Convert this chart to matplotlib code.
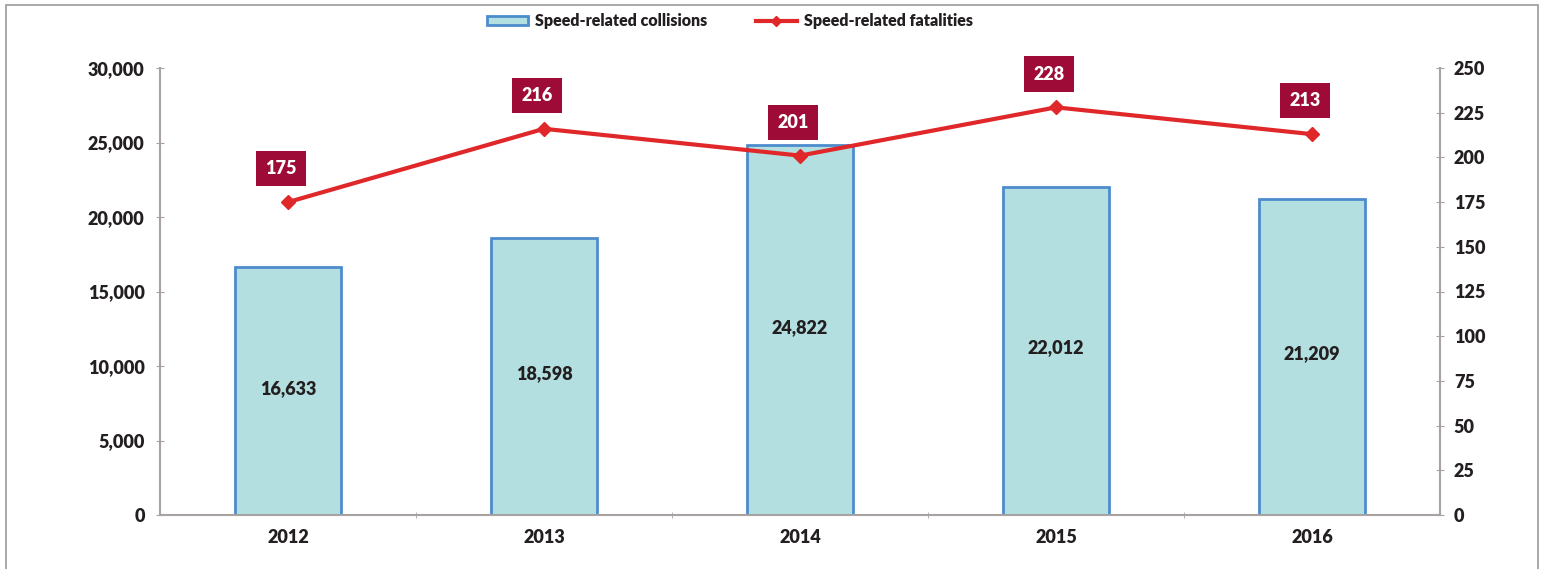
import matplotlib.pyplot as plt
import matplotlib.patches as mpatches
from matplotlib.lines import Line2D
import numpy as np

plt.rcParams['font.family'] = ['Lato', 'DejaVu Sans']
plt.rcParams['font.weight'] = 'heavy'

years = ["2012", "2013", "2014", "2015", "2016"]
collisions = [16633, 18598, 24822, 22012, 21209]
fatalities = [175, 216, 201, 228, 213]

text_col = "#231f20"
spine_col = "#a8a2a2"
bar_fill = "#b3dfe0"
bar_edge = "#4d8ccc"
line_col = "#e0282a"
box_col = "#9e0b36"
fw = "heavy"

fig = plt.figure(figsize=(15.44, 5.69), dpi=100)
# outer frame
fig.patches.append(mpatches.Rectangle((6 / 1544, -0.05), 1532 / 1544, 1.05 - 5 / 569,
                                      transform=fig.transFigure, fill=False,
                                      edgecolor="#9a9a9a", linewidth=1.2))

ax = fig.add_axes([160 / 1544, 1 - 515 / 569, 1280 / 1544, 447 / 569])
x = np.arange(len(years))
ax.bar(x, collisions, width=0.415, color=bar_fill, edgecolor=bar_edge, linewidth=2, zorder=2)
for xi, v in zip(x, collisions):
    ax.text(xi, v / 2 + 200, f"{v:,}", ha="center", va="center", fontsize=13,
            color=text_col, fontweight=fw, zorder=3)

ax.set_xlim(-0.5, 4.5)
ax.set_ylim(0, 30000)
ax.set_yticks(range(0, 30001, 5000))
ax.set_yticklabels([f"{t:,}" for t in range(0, 30001, 5000)])
ax.set_xticks(x)
ax.set_xticklabels(years)
ax.set_xticks(np.arange(0.5, 4.5, 1), minor=True)
ax.tick_params(axis="x", which="major", length=0, pad=10, labelsize=13, labelcolor=text_col)
ax.tick_params(axis="x", which="minor", length=5, direction="inout", color=spine_col)
ax.tick_params(axis="y", length=6, direction="inout", color=spine_col, pad=8,
               labelsize=13, labelcolor=text_col)
for s in ["top", "right"]:
    ax.spines[s].set_visible(False)
for s in ["left", "bottom"]:
    ax.spines[s].set_color(spine_col)
    ax.spines[s].set_linewidth(1.5)

ax2 = ax.twinx()
ax2.plot(x, fatalities, color=line_col, linewidth=3, marker="D", markersize=7, zorder=4)
ax2.set_ylim(0, 250)
ax2.set_yticks(range(0, 251, 25))
ax2.tick_params(axis="y", length=6, direction="inout", color=spine_col, pad=7,
                labelsize=13, labelcolor=text_col)
for s in ["top", "left", "bottom"]:
    ax2.spines[s].set_visible(False)
ax2.spines["right"].set_color(spine_col)
ax2.spines["right"].set_linewidth(1.5)

for xi, v in zip(x, fatalities):
    ax2.annotate(str(v), (xi, v), xytext=(-5, 24), textcoords="offset points",
                 ha="center", va="center", fontsize=13, color="white", fontweight=fw,
                 bbox=dict(boxstyle="square,pad=0.5", facecolor=box_col, edgecolor="none"),
                 zorder=5)

handles = [mpatches.Patch(facecolor=bar_fill, edgecolor=bar_edge, linewidth=2),
           Line2D([0], [0], color=line_col, linewidth=3, marker="D", markersize=5)]
fig.legend(handles, ["Speed-related collisions", "Speed-related fatalities"],
           loc="center", bbox_to_anchor=(730 / 1544, 1 - 21 / 569), ncol=2, frameon=False,
           fontsize=11.5, handlelength=2.6, handleheight=0.5, handletextpad=0.45,
           columnspacing=3.0, labelcolor=text_col)

fig.savefig("out.png", dpi=100)
